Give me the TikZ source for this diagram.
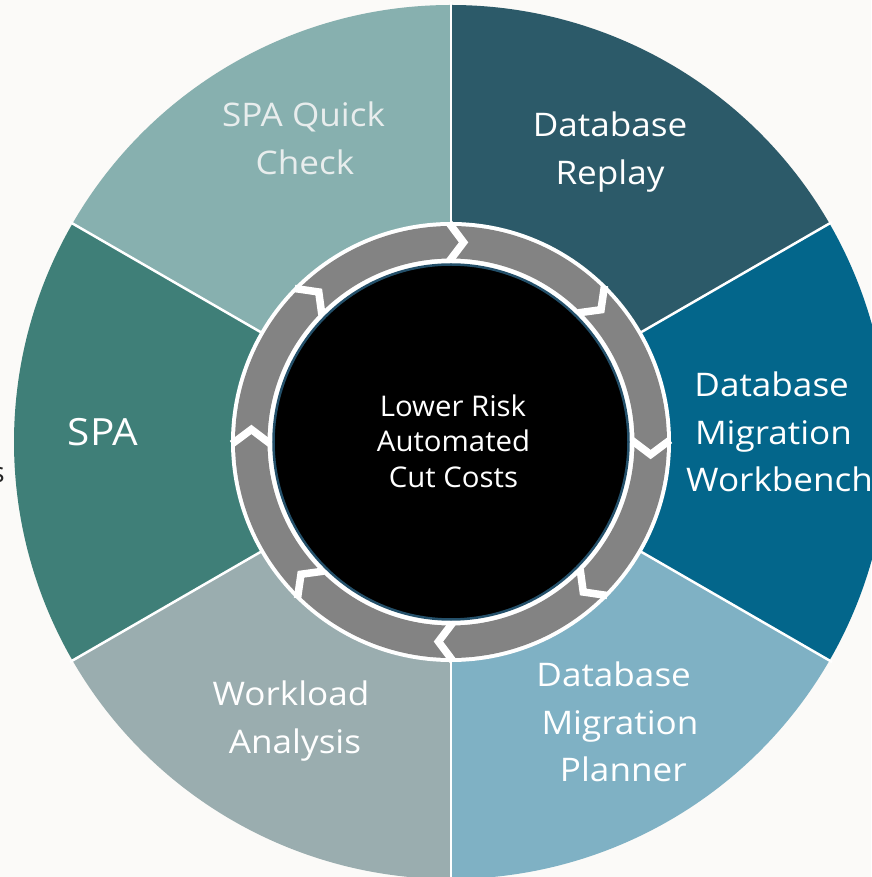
\documentclass[tikz,border=0pt]{standalone}
\usepackage{fontspec}
\setmainfont{Open Sans}
\newfontfamily\segfont{Open Sans}[FakeStretch=1.08]
\newfontfamily\cenfont{Open Sans}[FakeStretch=1.03]
\definecolor{bgc}{HTML}{FBFAF8}
\definecolor{cSQC}{HTML}{87B0AF}
\definecolor{cDR}{HTML}{2C5A69}
\definecolor{cDMW}{HTML}{03668B}
\definecolor{cDMP}{HTML}{7FB1C4}
\definecolor{cWA}{HTML}{9AADAF}
\definecolor{cSPA}{HTML}{3F7F78}
\definecolor{ringgray}{HTML}{838383}
\definecolor{rim}{HTML}{24506A}
\definecolor{qctext}{HTML}{E8EDED}
\begin{document}
\begin{tikzpicture}[x=1pt,y=1pt,
  seglabel/.style={text=white, inner sep=0pt, anchor=base, font=\segfont\fontsize{32.5}{40}\selectfont},
  centerlabel/.style={text=white, inner sep=0pt, anchor=base, font=\cenfont\fontsize{28.5}{34}\selectfont}]
\useasboundingbox (-451,-435) rectangle (420,442);
\fill[bgc] (-451,-435) rectangle (420,442);
% sectors
\fill[cSQC] (0,0) -- (90:437) arc[start angle=90,end angle=150,radius=437] -- cycle;
\fill[cDR]  (0,0) -- (30:437) arc[start angle=30,end angle=90,radius=437] -- cycle;
\fill[cDMW] (0,0) -- (-30:437) arc[start angle=-30,end angle=30,radius=437] -- cycle;
\fill[cDMP] (0,0) -- (-90:437) arc[start angle=-90,end angle=-30,radius=437] -- cycle;
\fill[cWA]  (0,0) -- (-150:437) arc[start angle=-150,end angle=-90,radius=437] -- cycle;
\fill[cSPA] (0,0) -- (150:437) arc[start angle=150,end angle=210,radius=437] -- cycle;
\foreach \a in {30,90,150,210,270,330}
  \draw[white, line width=2.5pt] (0,0) -- (\a:440);
% ring
\fill[white] (0,0) circle[radius=220];
\fill[ringgray, even odd rule] (0,0) circle[radius=216] (0,0) circle[radius=183.5];
\foreach \j in {0,45,...,315}
  \draw[white, line width=7.5pt, line join=miter] (\j+0.5:219) -- (\j-3.6:200) -- (\j+0.5:181);
\fill[black, draw=rim, line width=2.5pt] (0,0) circle[radius=177.5];
% labels
\node[seglabel, text=qctext] (qc1) at (-147.5,315) {SPA Quick};
\node[seglabel, text=qctext] (qc2) at (-146,267) {Check};
\node[seglabel] (dr1) at (159,305) {Database};
\node[seglabel] (dr2) at (159,257) {Replay};
\node[seglabel] (mw1) at (320.7,45.3) {Database};
\node[seglabel] (mw2) at (322.5,-3) {Migration};
\node[seglabel, anchor=base west] (mw3) at (235,-49.7) {Workbench};
\node[seglabel, font=\segfont\fontsize{37.5}{40}\selectfont] (spa) at (-348,-4) {SPA};
\node[seglabel] (mp1) at (162.7,-244) {Database};
\node[seglabel] (mp2) at (169,-292.3) {Migration};
\node[seglabel] (mp3) at (172.3,-339) {Planner};
\node[seglabel] (wa1) at (-160,-263) {Workload};
\node[seglabel] (wa2) at (-156,-311) {Analysis};
\node[centerlabel] (c1) at (2,25.3) {Lower Risk};
\node[centerlabel] (c2) at (2.5,-9.7) {Automated};
\node[centerlabel] (c3) at (2.5,-46) {Cut Costs};
\node[inner sep=0pt, anchor=base east, text=black!85, font=\fontsize{28}{34}\selectfont] (frag) at (-446,-41) {s};
\end{tikzpicture}
\end{document}
